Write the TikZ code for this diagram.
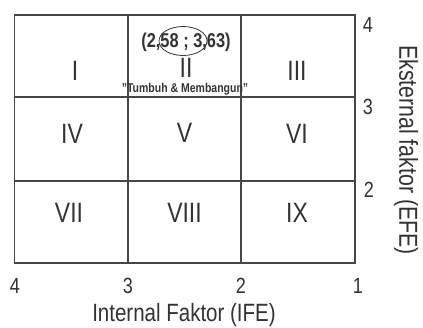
\documentclass[tikz,border=0pt]{standalone}
\usepackage{fontspec}
\setmainfont[FakeStretch=0.82]{Liberation Sans}
\usetikzlibrary{shapes.geometric}
\definecolor{ink}{HTML}{333333}
\definecolor{gridline}{HTML}{474747}
\tikzset{
  cellnum/.style={font=\fontsize{28}{32}\selectfont, text=ink, inner sep=0pt},
  ticknum/.style={font=\fontsize{22}{26}\selectfont, text=ink, inner sep=0pt, anchor=base},
  axistitle/.style={text=ink, inner sep=0pt},
  gridstroke/.style={draw=gridline, line width=1.4pt},
}
\begin{document}
\begin{tikzpicture}[x=1pt, y=-1pt]
\useasboundingbox (0,0) rectangle (423,327);
% IE matrix grid
\draw[gridstroke] (14.5,15) rectangle (355,263);
\draw[gridstroke] (128,15) -- (128,263);
\draw[gridstroke] (241,15) -- (241,263);
\draw[gridstroke] (14.5,97) -- (355,97);
\draw[gridstroke] (14.5,181) -- (355,181);
% cell numerals
\node[cellnum] (c1) at (75,71) {I};
\node[cellnum] (c2) at (186,68) {II};
\node[cellnum] (c3) at (297,71) {III};
\node[cellnum] (c4) at (72,134) {IV};
\node[cellnum] (c5) at (184.5,133) {V};
\node[cellnum] (c6) at (297,134) {VI};
\node[cellnum] (c7) at (69,213) {VII};
\node[cellnum] (c8) at (184.5,212.5) {VIII};
\node[cellnum] (c9) at (297,213) {IX};
% position of the firm
\node[ellipse, draw=ink, line width=0.8pt, minimum width=48pt, minimum height=29pt, inner sep=0pt] (pos) at (183,41) {};
\node[font=\fontsize{20}{23}\bfseries\selectfont, text=ink, inner sep=0pt] (score) at (186,42) {(2,58 ; 3,63)};
\node[font=\fontsize{12.8}{15}\bfseries\selectfont, text=ink, inner sep=0pt] (strat) at (185,89) {"Tumbuh \& Membangun"};
% IFE scale
\node[ticknum] (x4) at (15,293) {4};
\node[ticknum] (x3) at (128,293) {3};
\node[ticknum] (x2) at (241,293) {2};
\node[ticknum] (x1) at (358,293) {1};
\node[axistitle, anchor=base, font=\fontsize{25}{29}\selectfont] (ife) at (184,321) {Internal Faktor (IFE)};
% EFE scale
\node[ticknum] (y4) at (368,32) {4};
\node[ticknum] (y3) at (368,114) {3};
\node[ticknum] (y2) at (369,197) {2};
\node[axistitle, rotate=-90, font=\fontsize{26}{30}\selectfont] (efe) at (406,150) {Eksternal faktor (EFE)};
\end{tikzpicture}
\end{document}
